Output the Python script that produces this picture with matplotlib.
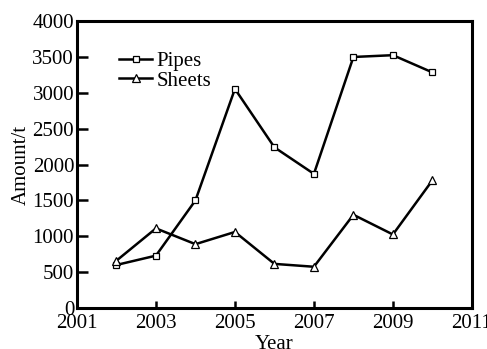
import matplotlib.pyplot as plt

years = [2002, 2003, 2004, 2005, 2006, 2007, 2008, 2009, 2010]
pipes = [600, 730, 1500, 3055, 2240, 1870, 3500, 3525, 3285]
sheets = [660, 1110, 890, 1060, 615, 575, 1300, 1025, 1780]

plt.rcParams['font.family'] = ['Liberation Serif', 'DejaVu Serif']

fig = plt.figure(figsize=(4.87, 3.49), dpi=100)
ax = fig.add_axes([0.158, 0.1175, 0.811, 0.822])

ax.plot(years, pipes, color='black', lw=1.8, marker='s', ms=4.5,
        mfc='white', mec='black', mew=0.9, label='Pipes')
ax.plot(years, sheets, color='black', lw=1.8, marker='^', ms=6,
        mfc='white', mec='black', mew=0.9, label='Sheets')

ax.set_xlim(2001, 2011)
ax.set_ylim(0, 4000)
ax.set_xticks([2001, 2003, 2005, 2007, 2009, 2011])
ax.set_yticks(range(0, 4001, 500))

ax.tick_params(axis='x', direction='in', length=5, width=1.8, pad=4,
               labelsize=15)
ax.tick_params(axis='y', direction='in', length=8, width=1.8, pad=2,
               labelsize=15)
for s in ax.spines.values():
    s.set_linewidth(2.2)

ax.set_xlabel('Year', fontsize=15, labelpad=2)
ax.set_ylabel('Amount/t', fontsize=15, labelpad=1)

ax.legend(loc='upper left', bbox_to_anchor=(0.08, 0.93), frameon=False,
          fontsize=15, handlelength=1.6, handletextpad=0.2,
          borderpad=0, labelspacing=0.0)

fig.savefig('out.png', dpi=100)
